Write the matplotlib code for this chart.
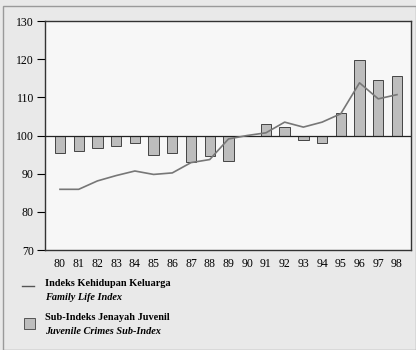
import matplotlib.pyplot as plt
from matplotlib.patches import Rectangle
from matplotlib.lines import Line2D

years = list(range(80, 99))
crime = [95.3, 95.9, 96.7, 97.3, 98.1, 94.9, 95.4, 93.0, 94.6, 93.4, 100.0,
         103.0, 102.2, 98.7, 98.0, 105.8, 119.8, 114.6, 115.7]
family = [85.9, 85.9, 88.1, 89.5, 90.7, 89.8, 90.2, 92.9, 93.7, 99.1, 100.0,
          100.7, 103.5, 102.2, 103.5, 105.7, 113.8, 109.6, 110.7]
yticks = [70, 80, 90, 100, 110, 120, 130]

plt.rcParams['font.family'] = ['Liberation Serif', 'DejaVu Serif']

fig = plt.figure(figsize=(4.16, 3.5), dpi=100, facecolor='#e9e9e9')
fig.patches.append(Rectangle((0.007, 0.0), 0.993, 0.983, transform=fig.transFigure,
                             fill=False, edgecolor='#9a9a9a', linewidth=1.0))

ax = fig.add_axes([45 / 416, 100 / 350, 366 / 416, 229 / 350])
ax.set_facecolor('#f7f7f7')

# bars grow from the 100 baseline
ax.bar(years, [c - 100 for c in crime], bottom=100, width=0.55,
       color='#bdbdbd', edgecolor='#444444', linewidth=0.7, zorder=2)
ax.axhline(100, color='#222222', linewidth=0.9, zorder=3)
ax.plot(years, family, color='#777777', linewidth=1.2, zorder=4)

ax.set_xlim(79.2, 98.75)
ax.set_ylim(70, 130)
ax.set_yticks(yticks)
ax.set_xticks(years)
ax.tick_params(axis='y', direction='out', length=6, width=0.8, labelsize=8.5, pad=2)
ax.tick_params(axis='x', length=0, labelsize=8.5, pad=6)
for s in ax.spines.values():
    s.set_linewidth(1.0)
    s.set_color('#333333')

# legend drawn manually
fig.lines.append(Line2D([22 / 416, 34 / 416], [1 - 286 / 350, 1 - 286 / 350],
                        color='#555555', linewidth=1.0, transform=fig.transFigure))
fig.text(45 / 416, 1 - 283 / 350, 'Indeks Kehidupan Keluarga', fontsize=7.4,
         fontweight='bold', va='center')
fig.text(45 / 416, 1 - 297 / 350, 'Family Life Index', fontsize=7.4,
         fontweight='bold', style='italic', va='center')
fig.patches.append(Rectangle((24 / 416, 1 - 329 / 350), 11 / 416, 11 / 350,
                             transform=fig.transFigure, facecolor='#bdbdbd',
                             edgecolor='#555555', linewidth=0.7))
fig.text(45 / 416, 1 - 318 / 350, 'Sub-Indeks Jenayah Juvenil', fontsize=7.4,
         fontweight='bold', va='center')
fig.text(45 / 416, 1 - 331 / 350, 'Juvenile Crimes Sub-Index', fontsize=7.4,
         fontweight='bold', style='italic', va='center')

fig.savefig('out.png', dpi=100, facecolor=fig.get_facecolor())
